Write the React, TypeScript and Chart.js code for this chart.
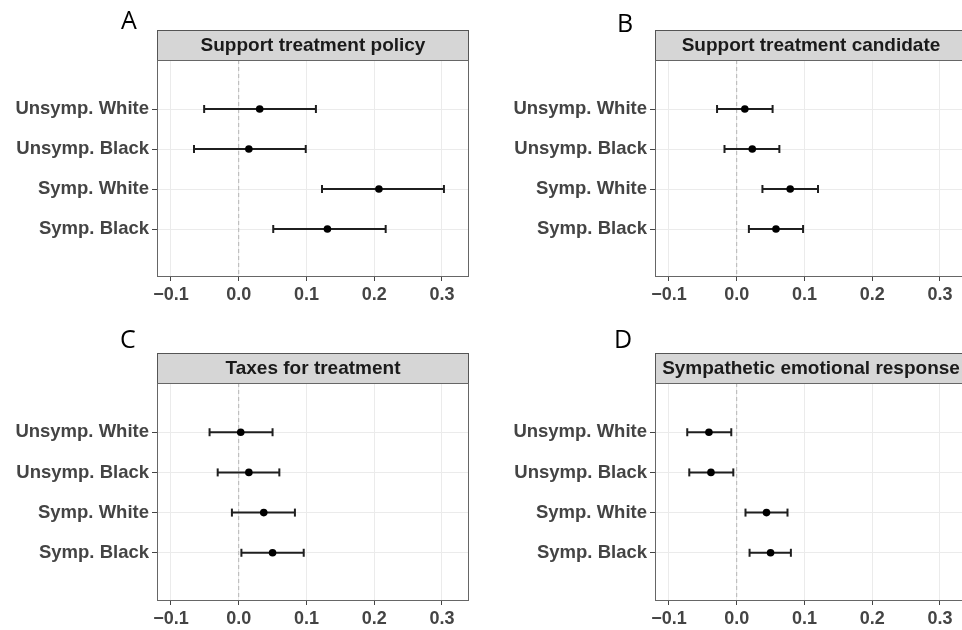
import React, { useEffect, useRef } from "react";
import { Chart, registerables } from "chart.js";
Chart.register(...registerables);

// ---------- data ----------
const categories = ["Unsymp. White", "Unsymp. Black", "Symp. White", "Symp. Black"];
const xTickValues = [-0.1, 0, 0.1, 0.2, 0.3];
const panelLetters = ["A", "B", "C", "D"];
const panelTitles = [
  "Support treatment policy",
  "Support treatment candidate",
  "Taxes for treatment",
  "Sympathetic emotional response",
];

const policyEst = [0.031, 0.015, 0.207, 0.131];
const policyLo = [-0.051, -0.066, 0.123, 0.051];
const policyHi = [0.114, 0.099, 0.303, 0.217];

const candidateEst = [0.012, 0.023, 0.079, 0.058];
const candidateLo = [-0.029, -0.018, 0.038, 0.018];
const candidateHi = [0.053, 0.063, 0.12, 0.098];

const taxesEst = [0.003, 0.015, 0.037, 0.05];
const taxesLo = [-0.043, -0.031, -0.01, 0.004];
const taxesHi = [0.05, 0.06, 0.083, 0.096];

const emotionEst = [-0.041, -0.038, 0.044, 0.05];
const emotionLo = [-0.073, -0.07, 0.013, 0.019];
const emotionHi = [-0.008, -0.005, 0.075, 0.08];

const panelData = [
  { est: policyEst, lo: policyLo, hi: policyHi },
  { est: candidateEst, lo: candidateLo, hi: candidateHi },
  { est: taxesEst, lo: taxesLo, hi: taxesHi },
  { est: emotionEst, lo: emotionLo, hi: emotionHi },
];

// ---------- layout ----------
const X_MIN = -0.1206;
const X_MAX = 0.34;
const Y_MIN = -0.225;
const Y_MAX = 5.2;

const layouts = [
  { left: 0, top: 0, w: 480, h: 310, aL: 157, aR: 469, aT: 60, aB: 277, stripTop: 30, lx: 121, ly: 29 },
  { left: 480, top: 0, w: 500, h: 310, aL: 175, aR: 487, aT: 60, aB: 277, stripTop: 30, lx: 137, ly: 32 },
  { left: 0, top: 323, w: 480, h: 307, aL: 157, aR: 469, aT: 60, aB: 278, stripTop: 30, lx: 120, ly: 25 },
  { left: 480, top: 323, w: 500, h: 307, aL: 175, aR: 487, aT: 60, aB: 278, stripTop: 30, lx: 134, ly: 25 },
];

const FONT = '"Liberation Sans", Arial, Helvetica, sans-serif';

const decorPlugin = {
  id: "panelDecor",
  afterDraw(chart: any) {
    const o = chart.options.plugins.panelDecor;
    const { ctx, chartArea: a } = chart;
    const L = Math.round(a.left) + 0.5;
    const R = Math.round(a.right) - 0.5;
    const T = Math.round(a.top) + 0.5;
    const B = Math.round(a.bottom) - 0.5;
    ctx.save();
    // strip
    const sT = o.stripTop + 0.5;
    ctx.fillStyle = "#d6d6d6";
    ctx.fillRect(L, sT, R - L, T - sT);
    ctx.strokeStyle = "#555555";
    ctx.lineWidth = 1;
    ctx.strokeRect(L, sT, R - L, T - sT);
    ctx.fillStyle = "#1a1a1a";
    ctx.font = `bold 19px ${FONT}`;
    ctx.textAlign = "center";
    ctx.textBaseline = "middle";
    ctx.fillText(o.title, (a.left + a.right) / 2, (o.stripTop + a.top) / 2 + 1);
    // panel border
    ctx.strokeStyle = "#666666";
    ctx.strokeRect(L, T, R - L, B - T);
    // letter
    ctx.fillStyle = "#000";
    ctx.font = `25px "Open Sans", ${FONT}`;
    ctx.textAlign = "left";
    ctx.textBaseline = "alphabetic";
    ctx.fillText(o.letter, o.lx, o.ly);
    ctx.restore();
  },
};

function fmtX(v: number) {
  if (Math.abs(v) < 1e-9) return "0.0";
  const s = v.toFixed(1);
  return s.replace("-", "\u2212");
}

function Panel({ idx }: { idx: number }) {
  const ref = useRef<HTMLCanvasElement>(null);
  const lay = layouts[idx];
  useEffect(() => {
    const d = panelData[idx];
    const datasets: any[] = [];
    datasets.push({
      data: d.est.map((v, i) => ({ x: v, y: i + 1 })),
      pointStyle: "circle",
      pointRadius: 3.8,
      backgroundColor: "#000",
      borderColor: "#000",
      pointBorderWidth: 0,
      order: 0,
    });
    categories.forEach((_, i) => {
      datasets.push({
        data: [
          { x: d.lo[i], y: i + 1 },
          { x: d.hi[i], y: i + 1 },
        ],
        showLine: true,
        borderColor: "#1f1f1f",
        borderWidth: 2,
        pointStyle: "line",
        pointRotation: 90,
        pointRadius: 4,
        pointBorderWidth: 2,
        pointBorderColor: "#1f1f1f",
        order: 1,
      });
    });
    datasets.push({
      data: [
        { x: 0, y: Y_MIN },
        { x: 0, y: Y_MAX },
      ],
      showLine: true,
      borderColor: "#b5b5b5",
      borderWidth: 1,
      borderDash: [4, 3],
      pointRadius: 0,
      order: 5,
    });

    const chart = new Chart(ref.current as HTMLCanvasElement, {
      type: "scatter",
      data: { datasets },
      plugins: [decorPlugin],
      options: {
        animation: false,
        responsive: false,
        devicePixelRatio: 1,
        events: [],
        layout: { padding: { top: lay.aT, right: lay.w - lay.aR, left: 0, bottom: 0 } },
        plugins: {
          legend: { display: false },
          tooltip: { enabled: false },
          panelDecor: {
            title: panelTitles[idx],
            letter: panelLetters[idx],
            stripTop: lay.stripTop,
            lx: lay.lx,
            ly: lay.ly,
          },
        } as any,
        scales: {
          x: {
            type: "linear",
            min: X_MIN,
            max: X_MAX,
            afterBuildTicks: (s: any) => {
              s.ticks = xTickValues.map((v) => ({ value: v }));
            },
            afterFit: (s: any) => {
              s.height = lay.h - lay.aB;
            },
            ticks: {
              autoSkip: false,
              maxRotation: 0,
              padding: 3,
              color: "#444444",
              font: { family: FONT, size: 18, weight: "bold" },
              callback: (v: any) => fmtX(Number(v)),
            },
            grid: { color: "#ebebeb", lineWidth: 1, tickColor: "#444", tickLength: 4, tickWidth: 1 },
            border: { display: false },
          },
          y: {
            type: "linear",
            reverse: true,
            min: Y_MIN,
            max: Y_MAX,
            afterBuildTicks: (s: any) => {
              s.ticks = categories.map((_, i) => ({ value: i + 1 }));
            },
            afterFit: (s: any) => {
              s.width = lay.aL;
            },
            ticks: {
              autoSkip: false,
              padding: 3,
              color: "#444444",
              font: { family: FONT, size: 18.5, weight: "bold" },
              callback: (v: any) => categories[Math.round(Number(v)) - 1],
            },
            grid: { color: "#ebebeb", lineWidth: 1, tickColor: "#444", tickLength: 5, tickWidth: 1 },
            border: { display: false },
          },
        },
      } as any,
    });
    return () => chart.destroy();
  }, [idx]);
  return (
    <canvas
      ref={ref}
      width={lay.w}
      height={lay.h}
      style={{ position: "absolute", left: lay.left, top: lay.top, width: lay.w, height: lay.h }}
    />
  );
}

export default function App() {
  return (
    <div
      style={{
        position: "absolute",
        left: 0,
        top: 0,
        width: 962,
        height: 630,
        overflow: "hidden",
        background: "#fff",
      }}
    >
      {[0, 1, 2, 3].map((i) => (
        <Panel key={i} idx={i} />
      ))}
    </div>
  );
}
